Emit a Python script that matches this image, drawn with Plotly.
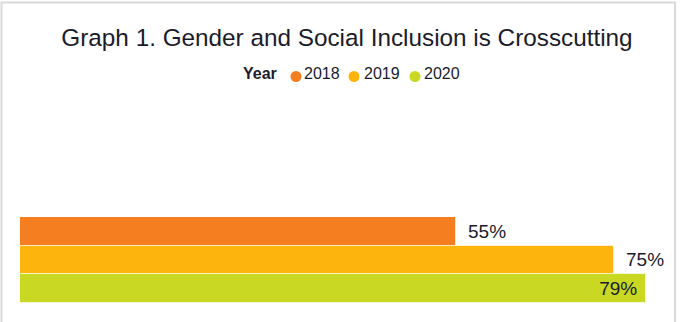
import plotly.graph_objects as go

# Share of programmes where gender and social inclusion is crosscutting
years = ["2018", "2019", "2020"]
shares = [55, 75, 79]
colors = ["#F57E20", "#FDB50E", "#C9D923"]
text_positions = ["outside", "outside", "inside"]

W, H = 680, 322
ML, MR, MT, MB = 20, 20, 217, 19
plot_w = W - ML - MR
plot_h = H - MT - MB
FONT = "Liberation Sans, Arial"
INK = "#1b1b2b"


def px_to_paper_x(px):
    return (px - ML) / plot_w


def px_to_paper_y(py):
    return (H - MB - py) / plot_h


fig = go.Figure()

for year, share, color, pos in zip(years, shares, colors, text_positions):
    label = "\u2002%{x}%" if pos == "outside" else "%{x}%\u00a0"
    fig.add_trace(go.Bar(
        x=[share], y=[year], orientation="h", name=year,
        marker=dict(color=color, line=dict(color="rgba(255,255,255,0.6)", width=1)),
        texttemplate=label, textposition=pos, insidetextanchor="end",
        textfont=dict(family=FONT, size=19, color=INK),
        cliponaxis=False, hoverinfo="skip",
    ))

# compact key: "Year" followed by a dot and label for each year
KEY_Y = 73.5
DOT_DROP = 3
KEY_TITLE_X = 243
key_dot_x = [296, 354, 415]
key_text_x = [302, 362, 422]
DOT_R = 5.5

annotations = [dict(
    text="<b>Year</b>", xref="paper", yref="paper",
    x=px_to_paper_x(KEY_TITLE_X - 2), y=px_to_paper_y(KEY_Y),
    xanchor="left", yanchor="middle", showarrow=False,
    font=dict(size=16, family=FONT, color=INK),
)]
shapes = [dict(
    type="rect", xref="paper", yref="paper", layer="below",
    x0=px_to_paper_x(1.5), x1=px_to_paper_x(675),
    y0=px_to_paper_y(340), y1=px_to_paper_y(2.5),
    line=dict(color="#d9d9d9", width=2), fillcolor="rgba(0,0,0,0)",
)]
for year, color, dx, tx in zip(years, colors, key_dot_x, key_text_x):
    shapes.append(dict(
        type="circle", xref="paper", yref="paper",
        x0=px_to_paper_x(dx - DOT_R), x1=px_to_paper_x(dx + DOT_R),
        y0=px_to_paper_y(KEY_Y + DOT_DROP + DOT_R),
        y1=px_to_paper_y(KEY_Y + DOT_DROP - DOT_R),
        fillcolor=color, line=dict(width=0),
    ))
    annotations.append(dict(
        text=year, xref="paper", yref="paper",
        x=px_to_paper_x(tx), y=px_to_paper_y(KEY_Y),
        xanchor="left", yanchor="middle", showarrow=False,
        font=dict(size=16, family=FONT, color=INK),
    ))

fig.update_layout(
    width=W, height=H,
    margin=dict(l=ML, r=MR, t=MT, b=MB),
    paper_bgcolor="white", plot_bgcolor="white",
    bargap=0, showlegend=False,
    font=dict(family=FONT, color=INK),
    title=dict(
        text="Graph 1. Gender and Social Inclusion is Crosscutting",
        font=dict(size=24.3, color=INK),
        x=347 / W, xanchor="center", xref="container",
        y=1 - 37 / H, yanchor="middle", yref="container",
    ),
    xaxis=dict(range=[0, 80.8], visible=False, fixedrange=True),
    yaxis=dict(categoryorder="array", categoryarray=years[::-1],
               visible=False, fixedrange=True),
    shapes=shapes,
    annotations=annotations,
)

fig.write_html("out.html")
